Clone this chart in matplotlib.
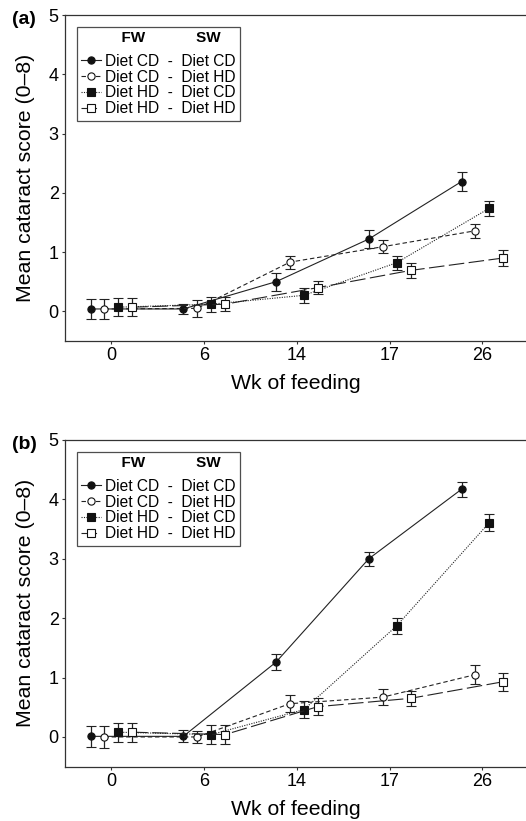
import matplotlib
matplotlib.use("Agg")
import matplotlib.pyplot as plt
import numpy as np

plt.rcParams["font.family"] = ["Liberation Sans", "DejaVu Sans"]

weeks = ["0", "6", "14", "17", "26"]
groups = ["Diet CD  -  Diet CD", "Diet CD  -  Diet HD", "Diet HD  -  Diet CD", "Diet HD  -  Diet HD"]

# panel (a)
a_cdcd = [0.04, 0.04, 0.50, 1.22, 2.19]
a_cdcd_err = [0.17, 0.08, 0.15, 0.15, 0.16]
a_cdhd = [0.04, 0.05, 0.83, 1.09, 1.36]
a_cdhd_err = [0.17, 0.14, 0.11, 0.11, 0.12]
a_hdcd = [0.07, 0.12, 0.27, 0.82, 1.74]
a_hdcd_err = [0.15, 0.13, 0.13, 0.12, 0.13]
a_hdhd = [0.07, 0.12, 0.40, 0.69, 0.90]
a_hdhd_err = [0.15, 0.12, 0.11, 0.12, 0.13]

# panel (b)
b_cdcd = [0.01, 0.01, 1.26, 3.00, 4.17]
b_cdcd_err = [0.18, 0.10, 0.13, 0.12, 0.13]
b_cdhd = [0.00, 0.00, 0.56, 0.67, 1.05]
b_cdhd_err = [0.18, 0.10, 0.14, 0.14, 0.16]
b_hdcd = [0.08, 0.04, 0.46, 1.87, 3.61]
b_hdcd_err = [0.16, 0.16, 0.14, 0.13, 0.15]
b_hdhd = [0.08, 0.04, 0.51, 0.65, 0.93]
b_hdhd_err = [0.16, 0.16, 0.14, 0.13, 0.15]

offsets = [-0.225, -0.075, 0.075, 0.225]
styles = [
    dict(marker="o", mfc="#111111", ls="-"),
    dict(marker="o", mfc="white", ls=(0, (4, 2.5))),
    dict(marker="s", mfc="#111111", ls=(0, (1, 1.2))),
    dict(marker="s", mfc="white", ls=(0, (14, 4))),
]


def draw(ax, series, errs, label):
    x = np.arange(len(weeks))
    handles = []
    for i, (vals, err) in enumerate(zip(series, errs)):
        st = styles[i]
        cont = ax.errorbar(x + offsets[i], vals, yerr=err, color="#222222", ecolor="#222222",
                           lw=0.8, elinewidth=0.9, capsize=3.8, capthick=0.9,
                           marker=st["marker"], ms=5.2, mfc=st["mfc"], mec="#111111", mew=0.8,
                           ls=st["ls"])
        handles.append(cont.lines[0])
    ax.set_xlim(-0.5, 4.47)
    ax.set_ylim(-0.5, 5)
    ax.set_xticks(x)
    ax.set_xticklabels(weeks)
    ax.set_yticks(range(6))
    ax.tick_params(direction="out", length=2.5, width=0.8, pad=2, labelsize=13, color="#333333")
    for s in ["left", "bottom", "top"]:
        ax.spines[s].set_linewidth(0.9)
        ax.spines[s].set_color("#333333")
    ax.spines["right"].set_visible(False)
    ax.set_xlabel("Wk of feeding", fontsize=15.3, labelpad=7)
    ax.set_ylabel("Mean cataract score (0–8)", fontsize=15.3, labelpad=9.5)
    ax.text(-0.115, 0.985, label, transform=ax.transAxes, fontsize=14, fontweight="bold",
            ha="left", va="center")
    leg = ax.legend(handles, groups, loc="upper left", bbox_to_anchor=(0.025, 0.964),
                    borderaxespad=0, fontsize=11.2, handlelength=1.3, handletextpad=0.25,
                    labelspacing=0.05, borderpad=0.3, frameon=True, fancybox=False,
                    edgecolor="#222222",
                    title="      FW            SW", title_fontproperties={"weight": "bold", "size": 11})
    leg._legend_box.sep = 6
    leg.get_frame().set_linewidth(0.9)


fig = plt.figure(figsize=(5.26, 8.21), dpi=100)
ax_a = fig.add_axes([0.1236, 0.5847, 0.8764, 0.397])
ax_b = fig.add_axes([0.1236, 0.0662, 0.8764, 0.3979])
draw(ax_a, [a_cdcd, a_cdhd, a_hdcd, a_hdhd], [a_cdcd_err, a_cdhd_err, a_hdcd_err, a_hdhd_err], "(a)")
draw(ax_b, [b_cdcd, b_cdhd, b_hdcd, b_hdhd], [b_cdcd_err, b_cdhd_err, b_hdcd_err, b_hdhd_err], "(b)")

fig.savefig("out.png", dpi=100)
